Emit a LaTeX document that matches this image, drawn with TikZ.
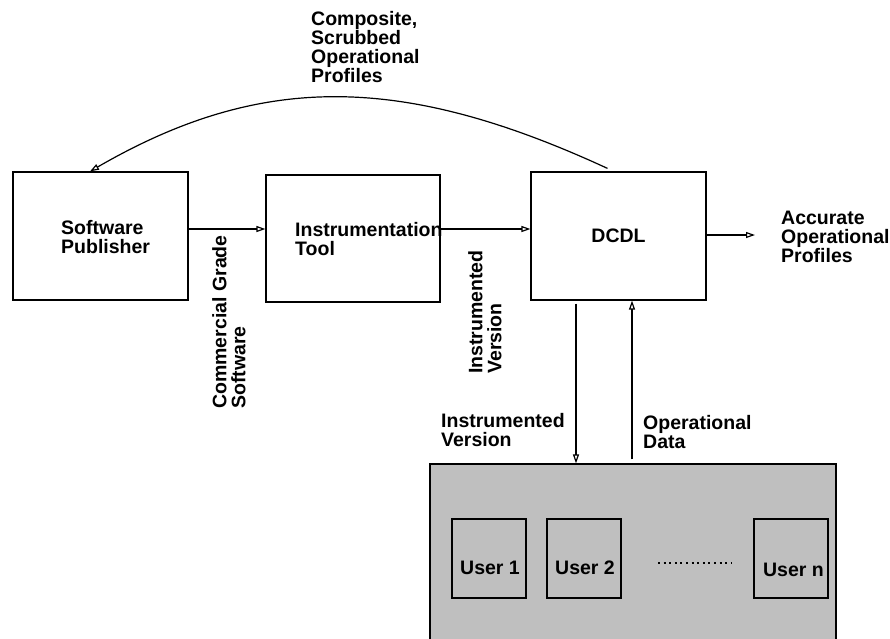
\documentclass[tikz,border=0pt]{standalone}
\usepackage{fontspec}
\setmainfont{Liberation Sans}
\usetikzlibrary{arrows.meta}
\definecolor{panelgray}{RGB}{191,191,191}
\tikzset{
  box/.style={draw,line width=1.2pt,inner sep=0pt},
  lbl/.style={font=\fontsize{19.5}{19}\selectfont\bfseries,align=left,inner sep=0pt},
  arr/.style={line width=1.2pt,-{Triangle[open,length=9pt,width=6pt]}}
}
\begin{document}
\begin{tikzpicture}[x=1pt,y=-1pt]
\useasboundingbox (0,0) rectangle (890,638);
\node[box,minimum width=175pt,minimum height=128pt] (sp) at (100.5,236) {};
\node[box,minimum width=174pt,minimum height=127pt] (it) at (353,238.5) {};
\node[box,lbl,minimum width=175pt,minimum height=128pt] (dcdl) at (618.5,236) {DCDL};
\node[box,fill=panelgray,minimum width=406pt,minimum height=190pt] (users) at (633,559) {};
\foreach \n/\x/\dx/\dy/\t in {u1/489/1/9/User 1,u2/584/1/9/User 2,un/791/2.5/11.5/User n}{
  \node[box,minimum width=74pt,minimum height=79pt] (\n) at (\x,558.5) {};
  \node[lbl] (\n t) at ([xshift=\dx pt,yshift=-\dy pt]\n.center) {\t};
}
\draw[line width=2pt,dash pattern=on 2pt off 3.6pt] (658,563) -- (731,563);

\node[lbl,anchor=west] (spt) at (61,237) {Software\\Publisher};
\node[lbl,anchor=west] (itt) at (295,239) {Instrumentation\\Tool};
\node[lbl,anchor=west] (comp) at (311,47) {Composite,\\Scrubbed\\Operational\\Profiles};
\node[lbl,anchor=west] (acc) at (781,237) {Accurate\\Operational\\Profiles};
\node[lbl,rotate=90] (cgs) at (229,322) {Commercial Grade\\Software};
\node[lbl,rotate=90] (ivr) at (485,312) {Instrumented\\Version};
\node[lbl,anchor=west] (ivd) at (441,430) {Instrumented\\Version};
\node[lbl,anchor=west] (opd) at (643,432) {Operational\\Data};

\draw[arr] ([yshift=7pt]sp.east) -- ([yshift=9.5pt]it.west);
\draw[arr] ([yshift=9.5pt]it.east) -- ([yshift=7pt]dcdl.west);
\coordinate (out) at (755,235);
\draw[arr] ([yshift=1pt]dcdl.east) -- (out);
\draw[arr] ([xshift=-11pt,yshift=3pt]dcdl.north) .. controls (401,73) and (260,73) .. ([xshift=-10.5pt]sp.north);
\coordinate (d0) at ([xshift=-42.5pt,yshift=-3pt]dcdl.south);
\draw[arr] (d0) -- (d0 |- users.north);
\coordinate (u0) at ([xshift=13.5pt]dcdl.south);
\draw[arr] (u0 |- users.north) ++(0,-4) -- (u0);
\end{tikzpicture}
\end{document}
